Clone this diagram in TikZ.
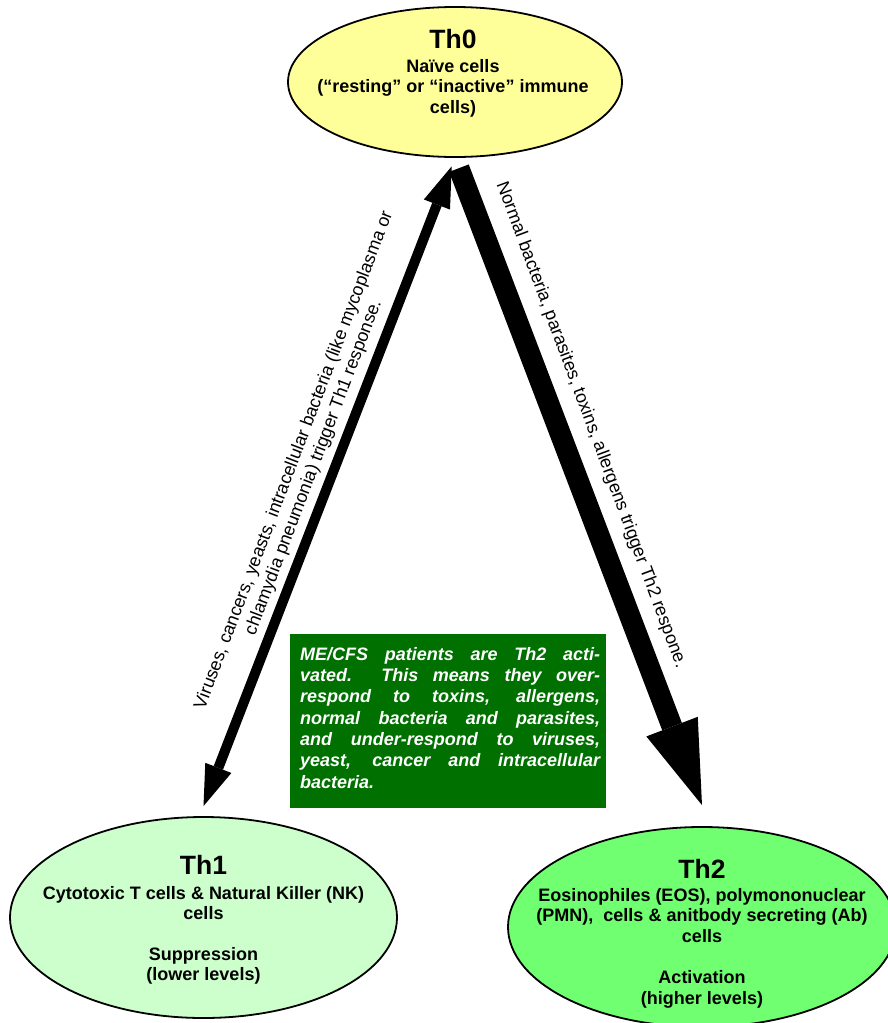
\documentclass[tikz,border=0pt]{standalone}
\usepackage{fontspec}
\setmainfont{Liberation Sans}
\usetikzlibrary{shapes.geometric,arrows.meta}
\definecolor{thzerofill}{RGB}{255,255,153}
\definecolor{thonefill}{RGB}{204,255,204}
\definecolor{thtwofill}{RGB}{112,255,112}
\definecolor{notegreen}{RGB}{0,112,0}
\newcommand{\ttlfont}{\fontsize{26.5}{30}\selectfont\bfseries}
\newcommand{\bdyfont}{\fontsize{18}{20.5}\selectfont\bfseries}
\newcommand{\lblfont}{\fontsize{18}{21}\selectfont}
\newcommand{\notefont}{\fontsize{18}{21.3}\selectfont\bfseries\itshape}
\begin{document}
\begin{tikzpicture}[x=1pt,y=-1pt,
  cell/.style={ellipse, draw=black, line width=1.8pt, inner sep=0pt},
  celltext/.style={anchor=north, inner sep=0pt, align=center, font=\bdyfont},
  thin arrow/.style={line width=10pt, {Triangle[length=41pt,width=28pt,line width=0pt]}-{Triangle[length=41pt,width=28pt,line width=0pt]}},
  thick arrow/.style={line width=21pt, -{Triangle[length=84pt,width=55pt,line width=0pt]}},
  arrowlabel/.style={inner sep=0pt, align=center, font=\lblfont},
  notebox/.style={fill=notegreen, draw=none, minimum width=316pt, minimum height=174pt, inner sep=0pt}
]
\useasboundingbox (0,0) rectangle (888,1023);
\node[cell, fill=thzerofill, minimum width=334pt, minimum height=150pt] (th0) at (455,82) {};
\node[cell, fill=thonefill, minimum width=387pt, minimum height=201pt] (th1) at (203.5,917.5) {};
\node[cell, fill=thtwofill, minimum width=388pt, minimum height=200pt] (th2) at (702,927) {};

\node[celltext] (th0text) at (453,29) {{\ttlfont Th0}\\[3.5pt]Naïve cells\\(“resting” or “inactive” immune\\cells)};
\node[celltext] (th1text) at (203.5,855) {{\ttlfont Th1}\\[4.5pt]Cytotoxic T cells \& Natural Killer (NK)\\cells\\[20pt]Suppression\\(lower levels)};
\node[celltext] (th2text) at (702,859) {{\ttlfont Th2}\\[2.5pt]Eosinophiles (EOS), polymononuclear\\(PMN),\ \ cells \& anitbody secreting (Ab)\\cells\\[21pt]Activation\\(higher levels)};

\coordinate (th1tip) at ([yshift=10pt]th1.north);
\coordinate (th2tip) at ([yshift=21pt]th2.north);
\draw[thin arrow, shorten <=9pt] (th0.south) -- (th1tip);
\draw[thick arrow, shorten <=11pt] (th0.south) -- (th2tip);

\node[arrowlabel, rotate=69.25] (lab1) at (304,464) {Viruses, cancers, yeasts, intracellular bacteria (like mycoplasma or\\chlamydia pneumonia) trigger Th1 response.};
\node[arrowlabel, rotate=-69.6] (lab2) at (591,425) {Normal bacteria, parasites, toxins, allergens trigger Th2 respone.};

\node[notebox] (note) at (448,721) {};
\node[anchor=north west, inner sep=0pt, text=white] (notetext) at (300,647) {\parbox{300pt}{\notefont
\makebox[300pt][s]{ME/CFS patients are Th2 acti-}\\
\makebox[300pt][s]{vated.\ \ This means they over-}\\
\makebox[300pt][s]{respond to toxins, allergens,}\\
\makebox[300pt][s]{normal bacteria and parasites,}\\
\makebox[300pt][s]{and under-respond to viruses,}\\
\makebox[300pt][s]{yeast, cancer and intracellular}\\
bacteria.}};
\end{tikzpicture}
\end{document}
